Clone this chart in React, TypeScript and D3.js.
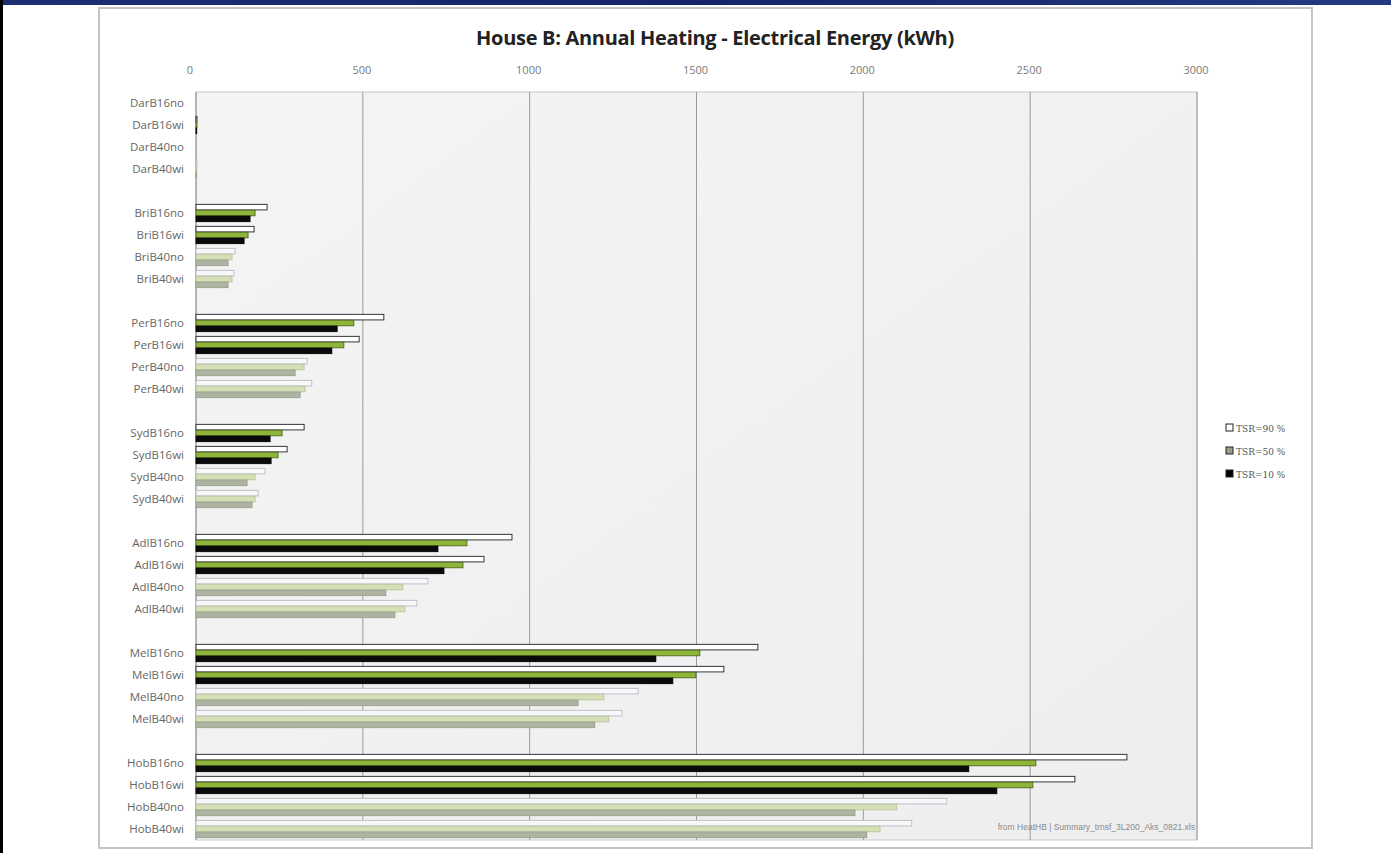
import * as d3 from "d3";
import React from "react";

// categories: city groups and their four cases
const cities = ["Dar", "Bri", "Per", "Syd", "Adl", "Mel", "Hob"];
const cases = ["B16no", "B16wi", "B40no", "B40wi"];
const series = ["TSR=90 %", "TSR=50 %", "TSR=10 %"];
const xTicks = [0, 500, 1000, 1500, 2000, 2500, 3000];

// annual heating electrical energy (kWh), rows in city/case order
const tsr90 = [
  0, 3, 0, 3,
  213, 174, 117, 114,
  563, 489, 333, 347,
  324, 273, 207, 186,
  947, 863, 695, 662,
  1684, 1582, 1325, 1277,
  2790, 2634, 2250, 2145,
];
const tsr50 = [
  0, 3, 0, 2,
  177, 156, 108, 108,
  473, 443, 324, 327,
  258, 246, 177, 177,
  812, 800, 620, 626,
  1510, 1498, 1222, 1237,
  2517, 2508, 2100, 2050,
];
const tsr10 = [
  0, 2, 0, 2,
  162, 144, 96, 96,
  423, 407, 297, 312,
  222, 225, 153, 168,
  725, 743, 569, 596,
  1378, 1429, 1145, 1195,
  2316, 2400, 1975, 2010,
];

const W = 1391;
const H = 853;
const plot = { left: 196, right: 1197, top: 92, bottom: 840 };

export default function App() {
  // slots: 4 rows per city + one empty slot between cities
  const slots: string[] = [];
  cities.forEach((c, gi) => {
    cases.forEach((k) => slots.push(c + k));
    if (gi < cities.length - 1) slots.push("gap" + gi);
  });
  const rows = cities.flatMap((c) => cases.map((k) => c + k));

  const x = d3.scaleLinear().domain([0, 3000]).range([plot.left, plot.right]);
  const y = d3.scaleBand().domain(slots).range([plot.top, plot.bottom]);
  const inner = d3
    .scaleBand()
    .domain(series)
    .range([0, y.bandwidth()])
    .paddingOuter(0.4)
    .paddingInner(0.05);

  const values = [tsr90, tsr50, tsr10];
  const fillB16 = ["#ffffff", "#8fb43a", "#0a0a0a"];
  const strokeB16 = ["#222", "#4d6b1d", "#000"];
  const fillB40 = ["#f8f8fb", "#d6e0b6", "#aeb4a2"];
  const strokeB40 = ["#b9bcc4", "#b9c49a", "#9aa08f"];

  return (
    <svg width={W} height={H} style={{ position: "absolute", left: 0, top: 0, display: "block" }}>
      <defs>
        <linearGradient id="plotBg" x1="0" y1="0" x2="1" y2="1">
          <stop offset="0" stopColor="#f4f4f4" />
          <stop offset="1" stopColor="#eeeeee" />
        </linearGradient>
        <linearGradient id="topBar" x1="0" y1="0" x2="1" y2="0">
          <stop offset="0" stopColor="#1d2f73" />
          <stop offset="0.5" stopColor="#14236a" />
          <stop offset="1" stopColor="#233a82" />
        </linearGradient>
      </defs>
      <rect x={0} y={0} width={W} height={H} fill="#ffffff" />
      <rect x={0} y={0} width={W} height={5} fill="url(#topBar)" />
      <rect x={0} y={0} width={3} height={H} fill="#000" />

      {/* chart frame */}
      <rect x={99} y={8} width={1213} height={840} fill="#ffffff" stroke="#c4c4c4" strokeWidth={2} />

      {/* plot area */}
      <rect
        x={plot.left}
        y={plot.top}
        width={plot.right - plot.left}
        height={plot.bottom - plot.top}
        fill="url(#plotBg)"
        stroke="#c8c8c8"
      />
      {xTicks.slice(1).map((t) => (
        <line key={t} x1={x(t)} x2={x(t)} y1={plot.top} y2={plot.bottom} stroke="#9a9a9a" strokeWidth={1} />
      ))}
      <line x1={plot.left} x2={plot.left} y1={plot.top} y2={plot.bottom} stroke="#8a8a8a" />

      {/* bars */}
      {rows.map((r, i) => {
        const isB40 = r.includes("B40");
        return series.map((s, si) => {
          const v = values[si][i];
          const w = x(v) - x(0);
          if (w <= 0) return null;
          return (
            <rect
              key={r + s}
              x={x(0)}
              y={(y(r) ?? 0) + (inner(s) ?? 0)}
              width={w}
              height={inner.bandwidth()}
              fill={isB40 ? fillB40[si] : fillB16[si]}
              stroke={isB40 ? strokeB40[si] : strokeB16[si]}
              strokeWidth={0.9}
            />
          );
        });
      })}

      {/* x tick labels on top */}
      {xTicks.map((t) => (
        <text
          key={t}
          x={x(t) - (t === 0 ? 6 : 1)}
          y={74}
          textAnchor="middle"
          fontFamily="'Open Sans', 'Liberation Sans', sans-serif"
          fontSize={11}
          fill="#7a7a7a"
        >
          {t}
        </text>
      ))}

      {/* category labels */}
      {rows.map((r) => (
        <text
          key={r}
          x={184}
          y={(y(r) ?? 0) + y.bandwidth() / 2 + 4}
          textAnchor="end"
          fontFamily="'Open Sans', 'Liberation Sans', sans-serif"
          fontSize={11.5}
          fill="#666"
        >
          {r}
        </text>
      ))}

      {/* title */}
      <text
        x={715}
        y={45}
        textAnchor="middle"
        fontFamily="'Open Sans', 'Noto Sans', sans-serif"
        fontWeight="bold"
        fontSize={20}
        fill="#222"
        letterSpacing={-0.3}
      >
        House B: Annual Heating - Electrical Energy (kWh)
      </text>

      {/* legend */}
      {series.map((s, si) => (
        <g key={s} transform={`translate(1226, ${424 + si * 23})`}>
          <rect
            x={0}
            y={0}
            width={7}
            height={7}
            fill={si === 0 ? "#fff" : si === 1 ? "#9aa08a" : "#000"}
            stroke="#222"
            strokeWidth={1}
          />
          <text x={10} y={7.5} fontFamily="'DejaVu Serif', 'Liberation Serif', serif" fontSize={9} fill="#555">
            {s}
          </text>
        </g>
      ))}

      {/* source note */}
      <text
        x={1195}
        y={830}
        textAnchor="end"
        fontFamily="'Liberation Sans', sans-serif"
        fontSize={8.5}
        fill="#8a8a8a"
      >
        from HeatHB | Summary_trnsf_3L200_Aks_0821.xls
      </text>
    </svg>
  );
}
